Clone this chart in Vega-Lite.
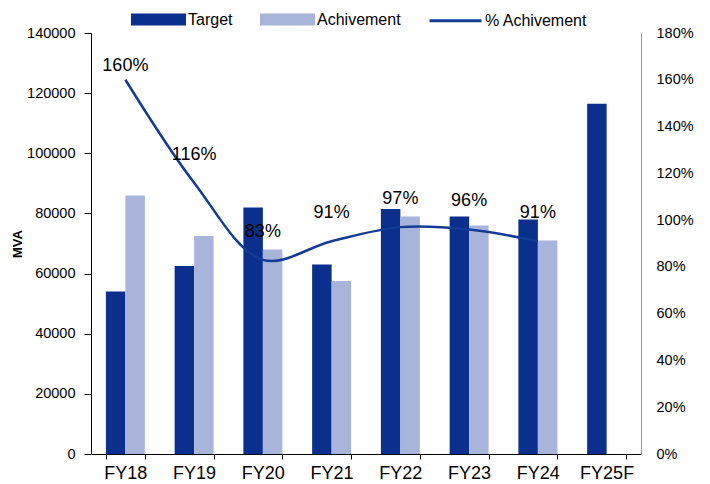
{
  "$schema": "https://vega.github.io/schema/vega-lite/v6.json",
  "width": 550,
  "height": 421,
  "autosize": {"type": "none"},
  "padding": {"left": 91, "top": 33, "right": 69, "bottom": 30},
  "background": "white",
  "config": {
    "view": {"stroke": null},
    "font": "Liberation Sans",
    "axis": {"labelFont": "Liberation Sans", "titleFont": "Liberation Sans", "labelColor": "#000", "grid": false},
    "legend": {"labelFont": "Liberation Sans"}
  },
  "data": {
    "values": [
      {"year": "FY18", "Target": 54000, "Achivement": 86000, "pct": 1.60},
      {"year": "FY19", "Target": 62500, "Achivement": 72500, "pct": 1.16},
      {"year": "FY20", "Target": 82000, "Achivement": 68000, "pct": 0.83},
      {"year": "FY21", "Target": 63000, "Achivement": 57500, "pct": 0.91},
      {"year": "FY22", "Target": 81500, "Achivement": 79000, "pct": 0.97},
      {"year": "FY23", "Target": 79000, "Achivement": 76000, "pct": 0.96},
      {"year": "FY24", "Target": 78000, "Achivement": 71000, "pct": 0.91},
      {"year": "FY25F", "Target": 116500, "Achivement": null, "pct": null}
    ]
  },
  "encoding": {
    "x": {
      "field": "year",
      "type": "nominal",
      "sort": null,
      "scale": {"paddingInner": 0.433, "paddingOuter": 0.2165},
      "axis": {
        "title": null,
        "labelAngle": 0,
        "labelFontSize": 18,
        "labelPadding": 5,
        "tickBand": "extent",
        "tickSize": 5,
        "domainColor": "#000",
        "tickColor": "#000"
      }
    }
  },
  "layer": [
    {
      "transform": [{"fold": ["Target", "Achivement"], "as": ["key", "value"]}],
      "mark": {"type": "bar"},
      "encoding": {
        "xOffset": {"field": "key", "type": "nominal", "scale": {"domain": ["Target", "Achivement"], "paddingInner": 0, "paddingOuter": 0}},
        "y": {
          "field": "value",
          "type": "quantitative",
          "scale": {"domain": [0, 140000], "nice": false},
          "axis": {
            "title": "MVA",
            "titleFontWeight": "bold",
            "titleFontSize": 13,
            "titlePadding": 2,
            "labelFontSize": 14.5,
            "values": [0, 20000, 40000, 60000, 80000, 100000, 120000, 140000],
            "format": "d",
            "tickSize": 7,
            "labelPadding": 9,
            "domainColor": "#000",
            "tickColor": "#000"
          }
        },
        "color": {
          "field": "key",
          "type": "nominal",
          "scale": {"domain": ["Target", "Achivement", "% Achivement"], "range": ["#0A2F8C", "#A8B4D9", "#133C97"]},
          "legend": {
            "title": null,
            "orient": "none",
            "direction": "horizontal",
            "legendX": 40,
            "legendY": -41,
            "labelFontSize": 16,
            "labelOffset": 2,
            "columnPadding": 22,
            "symbolSize": 2704,
            "encode": {
              "symbols": {
                "update": {
                  "shape": {"signal": "datum.value === '% Achivement' ? 'stroke' : 'M-1,-0.17H1V0.17H-1Z'"},
                  "fill": {"signal": "datum.value === '% Achivement' ? 'transparent' : scale('color', datum.value)"},
                  "stroke": {"signal": "datum.value === '% Achivement' ? scale('color', datum.value) : 'transparent'"},
                  "strokeWidth": {"value": 3},
                  "opacity": {"value": 1}
                }
              }
            }
          }
        }
      }
    },
    {
      "layer": [
        {
          "mark": {"type": "line", "interpolate": "catmull-rom", "strokeWidth": 2.5},
          "encoding": {
            "y": {
              "field": "pct",
              "type": "quantitative",
              "scale": {"domain": [0, 1.8], "nice": false},
              "axis": {
                "orient": "right",
                "title": null,
                "labelFontSize": 14.5,
                "values": [0, 0.2, 0.4, 0.6, 0.8, 1.0, 1.2, 1.4, 1.6, 1.8],
                "format": ".0%",
                "ticks": false,
                "labelPadding": 15,
                "domainColor": "#999"
              }
            },
            "color": {"datum": "% Achivement"}
          }
        },
        {
          "transform": [{"filter": "datum.pct != null && datum.year != 'FY18'"}],
          "mark": {"type": "text", "fontSize": 18, "dy": -28, "baseline": "middle", "color": "#000"},
          "encoding": {
            "y": {"field": "pct", "type": "quantitative"},
            "text": {"field": "pct", "type": "quantitative", "format": ".0%"}
          }
        },
        {
          "transform": [{"filter": "datum.year == 'FY18'"}],
          "mark": {"type": "text", "fontSize": 18, "dy": -14, "baseline": "middle", "color": "#000"},
          "encoding": {
            "y": {"field": "pct", "type": "quantitative"},
            "text": {"field": "pct", "type": "quantitative", "format": ".0%"}
          }
        }
      ]
    }
  ],
  "resolve": {"scale": {"y": "independent"}}
}
